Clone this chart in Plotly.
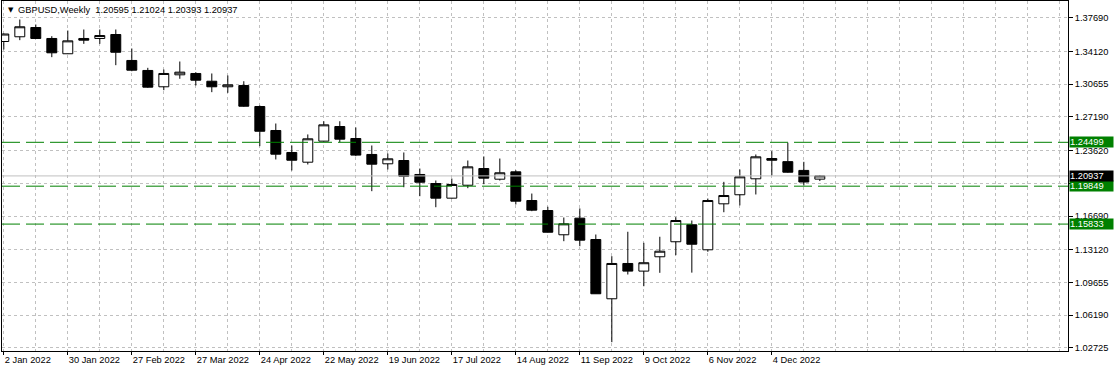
import pandas as pd
import plotly.graph_objects as go

# ---- data -----------------------------------------------------------------
week_start = "2022-01-02"
n_weeks = 52
dates = pd.date_range(week_start, periods=n_weeks, freq="7D")

opens = [1.3518, 1.3568, 1.3666, 1.3550, 1.3388, 1.3550, 1.3550, 1.3592, 1.3317, 1.3211,
         1.3038, 1.3165, 1.3179, 1.3097, 1.3038, 1.3052, 1.2829, 1.2575, 1.2342, 1.2239,
         1.2462, 1.2617, 1.2490, 1.2321, 1.2222, 1.2257, 1.2109, 1.2013, 1.1858, 1.1995,
         1.2172, 1.2059, 1.2137, 1.1833, 1.1727, 1.1470, 1.1646, 1.1420, 1.0792, 1.1166,
         1.1085, 1.1237, 1.1396, 1.1576, 1.1311, 1.1798, 1.1894, 1.2063, 1.2278, 1.2245,
         1.2152, 1.20595]
highs = [1.3603, 1.3751, 1.3698, 1.3574, 1.3634, 1.3645, 1.3645, 1.3645, 1.3444, 1.3239,
         1.3221, 1.3306, 1.3193, 1.3179, 1.3158, 1.3097, 1.2840, 1.2649, 1.2416, 1.2533,
         1.2673, 1.2673, 1.2607, 1.2416, 1.2331, 1.2342, 1.2172, 1.2045, 1.2066, 1.2257,
         1.2300, 1.2278, 1.2154, 1.1907, 1.1767, 1.1653, 1.1749, 1.1473, 1.1243, 1.1502,
         1.1385, 1.1449, 1.1656, 1.1621, 1.1854, 1.2031, 1.2162, 1.2321, 1.2356, 1.2446,
         1.2243, 1.21024]
lows = [1.3433, 1.3532, 1.3545, 1.3352, 1.3385, 1.3493, 1.3493, 1.3267, 1.3203, 1.3027,
        1.3002, 1.3123, 1.3052, 1.2981, 1.2974, 1.2826, 1.2409, 1.2268, 1.2151, 1.2215,
        1.2458, 1.2451, 1.2303, 1.1932, 1.2162, 1.1974, 1.1879, 1.1762, 1.1854, 1.1964,
        1.2006, 1.2045, 1.1791, 1.1720, 1.1494, 1.1402, 1.1349, 1.0843, 1.0332, 1.1049,
        1.0925, 1.1067, 1.1254, 1.1069, 1.1290, 1.1709, 1.1781, 1.1897, 1.2098, 1.2127,
        1.1992, 1.20393]
closes = [1.3597, 1.3674, 1.3550, 1.3398, 1.3525, 1.3532, 1.3581, 1.3404, 1.3214, 1.3034,
          1.3179, 1.3193, 1.3108, 1.3038, 1.3059, 1.2832, 1.2567, 1.2324, 1.2260, 1.2487,
          1.2635, 1.2483, 1.2314, 1.2218, 1.2275, 1.2091, 1.2027, 1.1858, 1.2003, 1.2190,
          1.2070, 1.2127, 1.1826, 1.1731, 1.1497, 1.1586, 1.1413, 1.0845, 1.1166, 1.1085,
          1.1174, 1.1296, 1.1621, 1.1370, 1.1833, 1.1886, 1.2084, 1.2296, 1.2260, 1.2133,
          1.2029, 1.20937]

x_tick_dates = pd.date_range(week_start, periods=13, freq="28D")
x_tick_labels = ["2 Jan 2022", "30 Jan 2022", "27 Feb 2022", "27 Mar 2022", "24 Apr 2022",
                 "22 May 2022", "19 Jun 2022", "17 Jul 2022", "14 Aug 2022", "11 Sep 2022",
                 "9 Oct 2022", "6 Nov 2022", "4 Dec 2022"]

y_tick_values = [1.37690, 1.34120, 1.30655, 1.27190, 1.23620, 1.20155, 1.16690,
                 1.13120, 1.09655, 1.06190, 1.02725]
y_tick_labels = ["1.37690", "1.34120", "1.30655", "1.27190", "1.23620", "",
                 "1.16690", "1.13120", "1.09655", "1.06190", "1.02725"]

level_values = [1.24499, 1.19849, 1.15833]
symbol = "GBPUSD,Weekly"

# ---- styling ---------------------------------------------------------------
FONT = "Liberation Sans, Arial, sans-serif"
FS = 9.3
GRID = "#c0c0c0"
GREEN = "#008000"

week = pd.Timedelta(days=7)
x_range = [dates[0] - 0.1125 * week, dates[0] + 66.51 * week]
y_range = [1.02386, 1.39470]

fig = go.Figure()
fig.add_trace(go.Candlestick(
    x=dates, open=opens, high=highs, low=lows, close=closes,
    increasing=dict(line=dict(color="black", width=1), fillcolor="white"),
    decreasing=dict(line=dict(color="black", width=1), fillcolor="black"),
    whiskerwidth=0, hoverinfo="skip", showlegend=False,
))

# current price line
fig.add_hline(y=closes[-1], line=dict(color=GRID, width=1))
# horizontal levels
for lv in level_values:
    fig.add_hline(y=lv, line=dict(color=GREEN, width=1, dash="18px,6px"))

# right-side price labels
def price_tag(val, bg):
    fig.add_annotation(
        xref="paper", yref="y", x=1, y=val, xanchor="left", yanchor="middle",
        xshift=1, text=f"{val:.5f}", showarrow=False, bgcolor=bg,
        font=dict(family=FONT, size=FS, color="white"), align="left",
        width=43, height=10, borderpad=0,
    )

for lv in level_values:
    price_tag(lv, GREEN)
price_tag(closes[-1], "black")

# header
fig.add_annotation(
    xref="paper", yref="paper", x=0, y=1, xanchor="left", yanchor="middle",
    xshift=4, yshift=-9, text="▼", showarrow=False,
    font=dict(family="DejaVu Sans", size=7, color="black"),
)
header = (symbol + "\u00a0\u00a0" + " ".join(
    f"{v:.5f}" for v in (opens[-1], highs[-1], lows[-1], closes[-1])))
fig.add_annotation(
    xref="paper", yref="paper", x=0, y=1, xanchor="left", yanchor="middle",
    xshift=14, yshift=-9, text=header, showarrow=False,
    font=dict(family=FONT, size=FS, color="black"),
)

fig.update_layout(
    width=1114, height=372,
    margin=dict(l=2, r=46, t=1, b=21),
    paper_bgcolor="white", plot_bgcolor="white",
    boxgap=0.38, boxgroupgap=0,
    showlegend=False, hovermode=False,
    xaxis=dict(
        type="date", range=x_range, rangeslider=dict(visible=False),
        tickmode="array", tickvals=x_tick_dates, ticktext=x_tick_labels,
        ticks="outside", ticklen=3, tickcolor="black",
        ticklabelposition="outside right",
        tickfont=dict(family=FONT, size=FS, color="black"),
        showline=True, linecolor="black", linewidth=1, mirror=True,
        showgrid=True, gridcolor=GRID, griddash="3px,3px", gridwidth=1,
        minor=dict(tickmode="linear", tick0=week_start, dtick=14 * 86400000,
                   showgrid=True, gridcolor=GRID, griddash="3px,3px", ticks=""),
        zeroline=False, fixedrange=True,
    ),
    yaxis=dict(
        side="right", range=y_range,
        tickmode="array", tickvals=y_tick_values, ticktext=y_tick_labels,
        ticks="outside", ticklen=4, tickcolor="black",
        tickfont=dict(family=FONT, size=FS, color="black"),
        showline=True, linecolor="black", linewidth=1, mirror=True,
        showgrid=True, gridcolor=GRID, griddash="3px,3px", gridwidth=1,
        zeroline=False, fixedrange=True,
    ),
)

fig.write_html("out.html", config={"displayModeBar": False},
               post_script="document.body.style.margin='0px';"
                           "document.body.style.padding='0px';")
